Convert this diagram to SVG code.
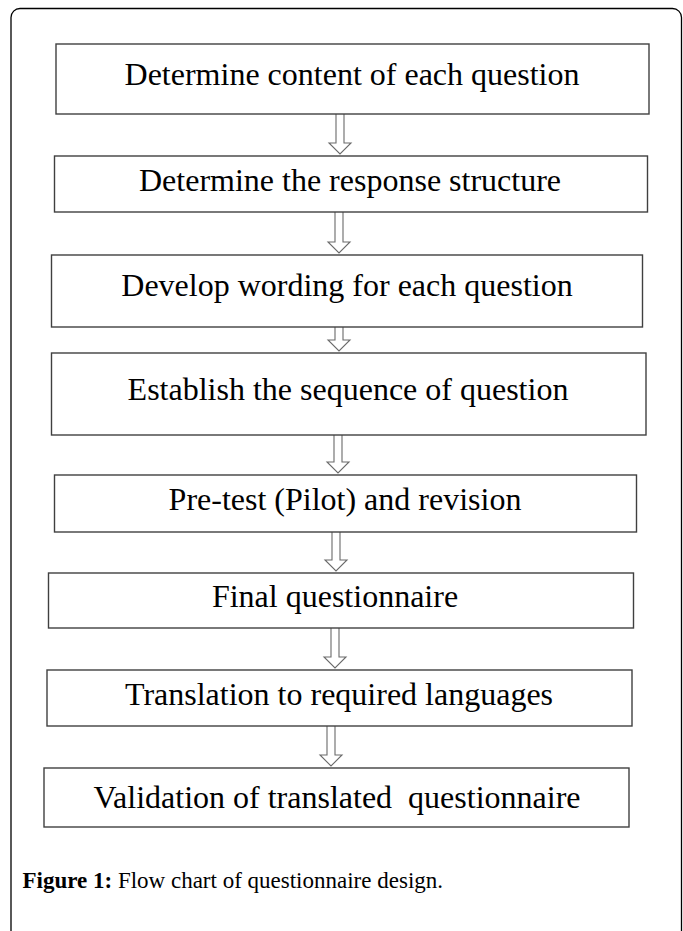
<svg xmlns="http://www.w3.org/2000/svg" width="683" height="931" viewBox="0 0 683 931">
<style>
.box{fill:#fff;stroke:#404040;stroke-width:1.4}
.lbl{font-family:"Liberation Serif","Times New Roman",serif;font-size:32px;fill:#000;text-anchor:middle}
.arr{fill:#fff;stroke:#6a6a6a;stroke-width:1.1;stroke-linejoin:miter}
.cap{font-family:"Liberation Serif","Times New Roman",serif;font-size:23px;fill:#000}
</style>
<rect x="0" y="0" width="683" height="931" fill="#fff"/>
<rect x="11" y="8.5" width="670.5" height="940" rx="9" ry="9" fill="none" stroke="#000" stroke-width="1.3"/>
<g id="connectors">
<path class="arr" d="M336,114 V143 H329 L340,154 L351,143 H344 V114"/>
<path class="arr" d="M335,212 V242 H328 L339,253 L350,242 H343 V212"/>
<path class="arr" d="M335,327 V340 H328 L339,351 L350,340 H343 V327"/>
<path class="arr" d="M334,435 V462 H327 L338,473 L349,462 H342 V435"/>
<path class="arr" d="M332,532 V560 H325 L336,571 L347,560 H340 V532"/>
<path class="arr" d="M331,628 V657 H324 L335,668 L346,657 H339 V628"/>
<path class="arr" d="M327,726 V755 H320 L331,766 L342,755 H335 V726"/>
</g>
<g id="n1"><rect class="box" x="56" y="44" width="593" height="70"/><text class="lbl" x="352" y="85">Determine content of each question</text></g>
<g id="n2"><rect class="box" x="54.5" y="156" width="593" height="56"/><text class="lbl" x="350" y="191">Determine the response structure</text></g>
<g id="n3"><rect class="box" x="51.5" y="255" width="591" height="72"/><text class="lbl" x="347" y="296">Develop wording for each question</text></g>
<g id="n4"><rect class="box" x="51.5" y="353" width="594.5" height="82"/><text class="lbl" x="348" y="400">Establish the sequence of question</text></g>
<g id="n5"><rect class="box" x="54.5" y="475" width="582" height="57"/><text class="lbl" x="345" y="510">Pre-test (Pilot) and revision</text></g>
<g id="n6"><rect class="box" x="48.5" y="573" width="585" height="55"/><text class="lbl" x="335" y="607">Final questionnaire</text></g>
<g id="n7"><rect class="box" x="47" y="670" width="585" height="56"/><text class="lbl" x="339" y="705">Translation to required languages</text></g>
<g id="n8"><rect class="box" x="44" y="768" width="585" height="59"/><text class="lbl" x="337" y="808" xml:space="preserve">Validation of translated  questionnaire</text></g>
<text class="cap" x="22.5" y="888"><tspan font-weight="bold">Figure 1:</tspan> Flow chart of questionnaire design.</text>
</svg>
